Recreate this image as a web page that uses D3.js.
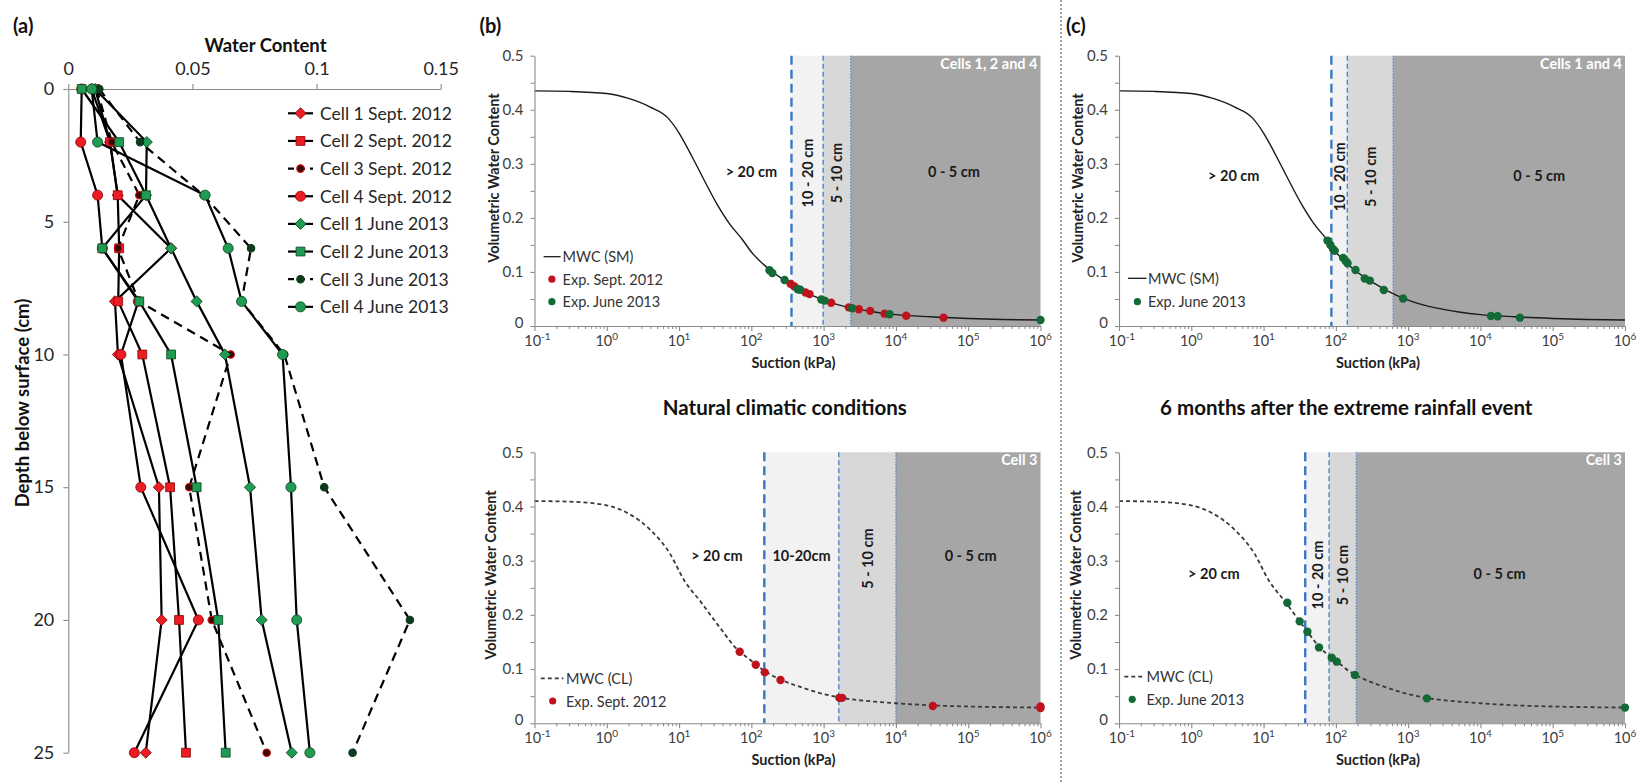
<!DOCTYPE html>
<html>
<head>
<meta charset="utf-8">
<script src="https://cdn.jsdelivr.net/npm/d3@7/dist/d3.min.js"></script>
<style>
html,body{margin:0;padding:0;background:#fff;}
svg{display:block;font-family:Lato,"Noto Sans",sans-serif;}
</style>
</head>
<body>
<svg id="chart" width="1644" height="783"></svg>
<script>
// ================= DATA =================
// Panel (a): water content profiles vs depth
const depths = [0, 2, 4, 6, 8, 10, 15, 20, 25];
const cell1Sept2012 = [0.0094, 0.0168, 0.0199, 0.0414, 0.0188, 0.0200, 0.0365, 0.0376, 0.0312];
const cell2Sept2012 = [0.0108, 0.0168, 0.0199, 0.0205, 0.0201, 0.0298, 0.0410, 0.0446, 0.0474];
const cell3Sept2012 = [0.0115, 0.0175, 0.0286, 0.0200, 0.0284, 0.0654, 0.0487, 0.0578, 0.0799];
const cell4Sept2012 = [0.0054, 0.0050, 0.0118, 0.0137, 0.0282, 0.0212, 0.0292, 0.0524, 0.0266];
const cell1June2013 = [0.0108, 0.0316, 0.0313, 0.0414, 0.0517, 0.0631, 0.0732, 0.0779, 0.0900];
const cell2June2013 = [0.0054, 0.0205, 0.0313, 0.0137, 0.0286, 0.0414, 0.0517, 0.0604, 0.0634];
const cell3June2013 = [0.0125, 0.0289, 0.0545, 0.0736, 0.0698, 0.0870, 0.1031, 0.1376, 0.1145];
const cell4June2013 = [0.0094, 0.0118, 0.0551, 0.0644, 0.0698, 0.0863, 0.0897, 0.0920, 0.0973];
const seriesNamesA = ["Cell 1 Sept. 2012","Cell 2 Sept. 2012","Cell 3 Sept. 2012","Cell 4 Sept. 2012",
                      "Cell 1 June 2013","Cell 2 June 2013","Cell 3 June 2013","Cell 4 June 2013"];
const wcTicks = [0, 0.05, 0.1, 0.15];
const wcTickLabels = ["0", "0.05", "0.1", "0.15"];
const depthTicks = [0, 5, 10, 15, 20, 25];

// Panels (b), (c): water retention curves  [suction kPa, volumetric water content]
const mwcSM = [[0.1,0.435],[0.3,0.434],[1,0.430],[2,0.421],[4,0.405],[7,0.385],[10,0.357],[15,0.314],
  [22,0.271],[33,0.227],[50,0.189],[75,0.160],[100,0.137],[180,0.104],[250,0.090],[350,0.078],[500,0.066],
  [1000,0.048],[2500,0.033],[5000,0.026],[10000,0.021],[30000,0.017],[100000,0.014],[300000,0.012],[1000000,0.011]];
const mwcCL = [[0.1,0.41],[0.3,0.409],[1,0.402],[2,0.387],[4,0.357],[7.4,0.314],[12,0.262],[20,0.224],
  [31.6,0.188],[40,0.170],[58,0.142],[88,0.121],[115,0.109],[153,0.096],[183,0.090],[250,0.081],[500,0.066],
  [1000,0.054],[1750,0.047],[5000,0.040],[10000,0.037],[32000,0.033],[100000,0.031],[1000000,0.029]];
const bTopSept2012 = [[348,0.078],[395,0.073],[562,0.062],[638,0.059],[1270,0.043],[2230,0.0345],[3070,0.031],
  [4400,0.028],[6950,0.0228],[13900,0.019],[45500,0.0154]];
const bTopJune2013 = [[178,0.103],[195,0.098],[288,0.085],[440,0.068],[474,0.067],[927,0.049],[1030,0.047],
  [2480,0.0327],[8150,0.0216],[1000000,0.011]];
const bBotSept2012 = [[69,0.132],[115,0.108],[153,0.094],[253,0.080],[1650,0.047],[1800,0.047],[32400,0.032],
  [1000000,0.028],[1000000,0.031]];
const cTopJune2013 = [[76.6,0.158],[84,0.150],[91.5,0.142],[96.6,0.139],[126,0.126],[137,0.120],[145,0.116],
  [187,0.1036],[251,0.088],[295,0.084],[460,0.0666],[851,0.051],[13960,0.0185],[17300,0.018],[35200,0.0154]];
const cBotJune2013 = [[21.3,0.2225],[31.6,0.188],[40.4,0.169],[58.5,0.140],[87.7,0.121],[103,0.1137],[183,0.089],
  [1815,0.046],[1000000,0.029]];
// zone boundaries (kPa): >20cm | 10-20cm | 5-10cm | 0-5cm
const bTopBounds = [359, 984, 2370];
const bBotBounds = [151, 1620, 10000];
const cTopBounds = [86.7, 144, 620];
const cBotBounds = [37.7, 80.7, 192];
const suctionTicks = [0.1, 1, 10, 100, 1000, 10000, 100000, 1000000];
const suctionTickExp = ["-1","0","1","2","3","4","5","6"];
const vwcTicks = [0, 0.1, 0.2, 0.3, 0.4, 0.5];
const vwcTickLabels = ["0","0.1","0.2","0.3","0.4","0.5"];

// ================= DRAWING =================
const svg = d3.select("#chart");
const TXT = "#262626";
const RED = "#ec1c24", RED_S = "#8a0000";
const GRN = "#1f9b52", GRN_S = "#0b4020";
const DRED = "#3d0404", DRED_S = "#d41010";
const DGRN = "#0c3b1e", DGRN_S = "#0c3b1e";
const SEPT = "#c0121c", JUNE = "#126a36";

function styleAxis(a, size, color){
  a.select(".domain").attr("stroke","#8a8a8a").attr("stroke-width",1.1);
  a.selectAll(".tick line").attr("stroke","#8a8a8a").attr("stroke-width",1.1);
  a.selectAll(".tick text").attr("font-size",size).attr("fill",color).attr("font-family","Lato, 'Noto Sans', sans-serif");
}

// ---------- Panel (a) ----------
const gA = svg.append("g");
const xA = d3.scaleLinear().domain([0, 0.15]).range([68.3, 440.7]);
const yA = d3.scaleLinear().domain([0, 25]).range([89, 752.7]);

gA.append("text").attr("x",13).attr("y",33).attr("font-size",20).attr("font-weight","bold").attr("fill","#111").text("(a)");
gA.append("text").attr("x",265.5).attr("y",45).attr("dominant-baseline","central").attr("text-anchor","middle")
  .attr("font-size",18.5).attr("font-weight","bold").attr("fill","#111").text("Water Content");
gA.append("text").attr("transform","translate(22,403) rotate(-90)").attr("text-anchor","middle").attr("dominant-baseline","central")
  .attr("font-size",18.5).attr("font-weight","bold").attr("fill","#111").text("Depth below surface (cm)");

const axTopA = gA.append("g").attr("transform",`translate(0,${yA(0)})`)
  .call(d3.axisTop(xA).tickValues(wcTicks).tickFormat((d,i)=>wcTickLabels[i]).tickSize(5).tickSizeOuter(0).tickPadding(9));
const axLeftA = gA.append("g").attr("transform",`translate(${xA(0)},0)`)
  .call(d3.axisLeft(yA).tickValues(depthTicks).tickSize(5).tickSizeOuter(0).tickPadding(9));
styleAxis(axTopA, 18, TXT); styleAxis(axLeftA, 18, TXT);

const seriesA = [
  {vals: cell1Sept2012, shape:"diamond", fill:RED,  stroke:RED_S,  dash:false},
  {vals: cell2Sept2012, shape:"square",  fill:RED,  stroke:RED_S,  dash:false},
  {vals: cell3Sept2012, shape:"small",   fill:DRED, stroke:DRED_S, dash:true},
  {vals: cell4Sept2012, shape:"circle",  fill:RED,  stroke:RED_S,  dash:false},
  {vals: cell1June2013, shape:"diamond", fill:GRN,  stroke:GRN_S,  dash:false},
  {vals: cell2June2013, shape:"square",  fill:GRN,  stroke:GRN_S,  dash:false},
  {vals: cell3June2013, shape:"small",   fill:DGRN, stroke:DGRN_S, dash:true},
  {vals: cell4June2013, shape:"circle",  fill:GRN,  stroke:GRN_S,  dash:false}
];
function symbolPath(shape){
  if (shape==="diamond") return d3.symbol(d3.symbolSquare, 62)();
  if (shape==="square")  return d3.symbol(d3.symbolSquare, 78)();
  if (shape==="circle")  return d3.symbol(d3.symbolCircle, 80)();
  return d3.symbol(d3.symbolCircle, 44)();
}
function drawMarker(g, s, cx, cy){
  g.append("path").attr("d", symbolPath(s.shape))
    .attr("transform", `translate(${cx},${cy})` + (s.shape==="diamond" ? " rotate(45)" : ""))
    .attr("fill", s.fill).attr("stroke", s.stroke).attr("stroke-width", s.shape==="small"?1.1:0.8);
}
const lineA = d3.line().x(d=>xA(d[0])).y(d=>yA(d[1]));
seriesA.forEach(s=>{
  const pts = depths.map((dp,i)=>[s.vals[i], dp]);
  gA.append("path").attr("d", lineA(pts)).attr("fill","none").attr("stroke","#000")
    .attr("stroke-width",2.2).attr("stroke-dasharray", s.dash ? "9,6" : null);
  pts.forEach(p=>drawMarker(gA, s, xA(p[0]), yA(p[1])));
});
// legend (a)
seriesA.forEach((s,i)=>{
  const ly = 113.3 + i*27.65;
  gA.append("line").attr("x1",288).attr("x2",313).attr("y1",ly).attr("y2",ly).attr("stroke","#000")
    .attr("stroke-width",2.2).attr("stroke-dasharray", s.dash ? "6,5" : null);
  drawMarker(gA, s, 300.5, ly);
  gA.append("text").attr("x",320).attr("y",ly).attr("dominant-baseline","central").attr("font-size",17.5)
    .attr("fill",TXT).text(seriesNamesA[i]);
});

// ---------- Panels (b), (c) ----------
function drawSuctionPanel(p){
  const g = svg.append("g");
  const x = d3.scaleLog().domain([0.1, 1e6]).range(p.xr);
  const y = d3.scaleLinear().domain([0, 0.5]).range(p.yr);
  const top = y(0.5), bot = y(0);
  const [b1,b2,b3] = p.bounds;
  const bands = [[b1,b2,"#f2f2f2"],[b2,b3,"#d8d8d8"],[b3,1e6,"#a6a6a6"]];
  g.selectAll("rect.band").data(bands).join("rect").attr("class","band")
    .attr("x",d=>x(d[0])).attr("width",d=>x(d[1])-x(d[0])).attr("y",top).attr("height",bot-top).attr("fill",d=>d[2]);
  const bls = [[b1,2.4,"9,5","#3a78c4"],[b2,1.4,"5,3","#4a86cf"],[b3,1.3,"1.5,1.5","#5683c4"]];
  g.selectAll("line.bd").data(bls).join("line").attr("class","bd")
    .attr("x1",d=>x(d[0])).attr("x2",d=>x(d[0])).attr("y1",top).attr("y2",bot)
    .attr("stroke",d=>d[3]).attr("stroke-width",d=>d[1]).attr("stroke-dasharray",d=>d[2]);

  // zone labels
  const centers = [null, Math.sqrt(b1*b2), Math.sqrt(b2*b3), null];
  p.zones.forEach((z,i)=>{
    const sx = z.at !== null ? z.at : centers[i];
    const t = g.append("text").attr("font-size",14.5).attr("font-weight","bold").attr("fill","#1a1a1a")
      .attr("text-anchor","middle").attr("dominant-baseline","central").text(z.text);
    if (z.vertical) t.attr("transform",`translate(${x(sx)},${y(z.theta)}) rotate(-90)`);
    else t.attr("x",x(sx)).attr("y",y(z.theta));
  });
  g.append("text").attr("x",x(1e6)-3).attr("y",y(0.486)).attr("text-anchor","end").attr("dominant-baseline","central")
    .attr("font-size",14.5).attr("font-weight","bold").attr("fill","#fff").text(p.corner);

  // curve
  const line = d3.line().x(d=>x(d[0])).y(d=>y(d[1])).curve(d3.curveMonotoneX);
  g.append("path").attr("d", line(p.curve)).attr("fill","none")
    .attr("stroke", p.dashed ? "#3a3a3a" : "#1a1a1a").attr("stroke-width", p.dashed ? 1.8 : 1.4)
    .attr("stroke-dasharray", p.dashed ? "4,3" : null);
  // points
  p.series.forEach(s=>{
    g.selectAll(null).data(s.pts).join("circle").attr("cx",d=>x(d[0])).attr("cy",d=>y(d[1]))
      .attr("r",4.2).attr("fill",s.color);
  });

  // axes
  const ax = g.append("g").attr("transform",`translate(0,${bot})`)
    .call(d3.axisBottom(x).tickValues(suctionTicks).tickFormat("").tickSize(5).tickSizeOuter(0));
  styleAxis(ax, 15, "#404040");
  const minor = [];
  suctionTicks.slice(0,-1).forEach(d=>{ for (let k=2;k<10;k++) minor.push(d*k); });
  const axm = g.append("g").attr("transform",`translate(0,${bot})`)
    .call(d3.axisBottom(x).tickValues(minor).tickFormat("").tickSize(3).tickSizeOuter(0));
  axm.select(".domain").remove();
  axm.selectAll(".tick line").attr("stroke","#8a8a8a");
  suctionTicks.forEach((d,i)=>{
    const t = g.append("text").attr("x",x(d) + (i===0 ? 3 : 0)).attr("y",bot+20).attr("text-anchor","middle")
      .attr("font-size",14.5).attr("fill","#404040");
    t.append("tspan").text("10");
    t.append("tspan").attr("dy",-6).attr("font-size",10).text(suctionTickExp[i]);
  });
  const yMinor = [0.05,0.15,0.25,0.35,0.45];
  const ay = g.append("g").attr("transform",`translate(${x(0.1)},0)`)
    .call(d3.axisLeft(y).tickValues(vwcTicks).tickFormat((d,i)=>vwcTickLabels[i]).tickSize(4).tickSizeOuter(0).tickPadding(7));
  styleAxis(ay, 15, "#404040");
  ay.selectAll(".tick text").filter(d=>d===0).attr("dy","0.1em");
  const aym = g.append("g").attr("transform",`translate(${x(0.1)},0)`)
    .call(d3.axisLeft(y).tickValues(yMinor).tickFormat("").tickSize(4).tickSizeOuter(0));
  aym.select(".domain").remove();
  aym.selectAll(".tick line").attr("stroke","#8a8a8a");

  // axis titles
  g.append("text").attr("transform",`translate(${p.ylabX},${p.ylabY}) rotate(-90)`).attr("text-anchor","middle")
    .attr("dominant-baseline","central").attr("font-size",14.5).attr("font-weight","bold").attr("fill","#222")
    .text("Volumetric Water Content");
  g.append("text").attr("x",(p.xr[0]+p.xr[1])/2 + 6).attr("y",bot+36).attr("text-anchor","middle")
    .attr("dominant-baseline","central").attr("font-size",14.5).attr("font-weight","bold").attr("fill","#222")
    .text("Suction (kPa)");

  // legend
  const L = p.legend;
  g.append("line").attr("x1",L.x1).attr("x2",L.x2).attr("y1",L.y).attr("y2",L.y)
    .attr("stroke", p.dashed ? "#3a3a3a" : "#1a1a1a").attr("stroke-width", p.dashed ? 1.8 : 1.3)
    .attr("stroke-dasharray", p.dashed ? "4,3" : null);
  g.append("text").attr("x",L.tx).attr("y",L.y).attr("dominant-baseline","central").attr("font-size",14.5)
    .attr("fill","#333").text(p.curveName);
  p.series.forEach((s,i)=>{
    const ly = L.y + (i+1)*L.gap;
    g.append("circle").attr("cx",L.dx).attr("cy",ly).attr("r",3.6).attr("fill",s.color);
    g.append("text").attr("x",L.tx).attr("y",ly).attr("dominant-baseline","central").attr("font-size",14.5)
      .attr("fill","#333").text(s.name);
  });
}

drawSuctionPanel({
  xr:[534.5,1040.5], yr:[326,55.7], bounds:bTopBounds, curve:mwcSM, dashed:false, curveName:"MWC (SM)",
  series:[{pts:bTopSept2012,color:SEPT,name:"Exp. Sept. 2012"},{pts:bTopJune2013,color:JUNE,name:"Exp. June 2013"}],
  zones:[{text:"> 20 cm",at:100,theta:0.2854,vertical:false},{text:"10 - 20 cm",at:null,theta:0.283,vertical:true},
         {text:"5 - 10 cm",at:null,theta:0.283,vertical:true},{text:"0 - 5 cm",at:63500,theta:0.2854,vertical:false}],
  corner:"Cells 1, 2 and 4", ylabX:493.4, ylabY:178,
  legend:{x1:543.6,x2:560.6,tx:562.6,dx:551.9,y:256.7,gap:22.5}
});
drawSuctionPanel({
  xr:[534.5,1040.5], yr:[723.3,452.3], bounds:bBotBounds, curve:mwcCL, dashed:true, curveName:"MWC (CL)",
  series:[{pts:bBotSept2012,color:SEPT,name:"Exp. Sept. 2012"}],
  zones:[{text:"> 20 cm",at:33.3,theta:0.309,vertical:false},{text:"10-20cm",at:null,theta:0.309,vertical:false},
         {text:"5 - 10 cm",at:null,theta:0.304,vertical:true},{text:"0 - 5 cm",at:108000,theta:0.309,vertical:false}],
  corner:"Cell 3", ylabX:490.6, ylabY:575,
  legend:{x1:540.8,x2:563.4,tx:566,dx:552.7,y:678.3,gap:22.7}
});
drawSuctionPanel({
  xr:[1119,1625], yr:[326,55.7], bounds:cTopBounds, curve:mwcSM, dashed:false, curveName:"MWC (SM)",
  series:[{pts:cTopJune2013,color:JUNE,name:"Exp. June 2013"}],
  zones:[{text:"> 20 cm",at:3.87,theta:0.2793,vertical:false},{text:"10 - 20 cm",at:null,theta:0.276,vertical:true},
         {text:"5 - 10 cm",at:null,theta:0.276,vertical:true},{text:"0 - 5 cm",at:65200,theta:0.2793,vertical:false}],
  corner:"Cells 1 and 4", ylabX:1077.7, ylabY:178,
  legend:{x1:1128,x2:1146.5,tx:1148,dx:1137.4,y:278.3,gap:23.4}
});
drawSuctionPanel({
  xr:[1119,1625], yr:[723.3,452.3], bounds:cBotBounds, curve:mwcCL, dashed:true, curveName:"MWC (CL)",
  series:[{pts:cBotJune2013,color:JUNE,name:"Exp. June 2013"}],
  zones:[{text:"> 20 cm",at:2.05,theta:0.2768,vertical:false},{text:"10 - 20 cm",at:null,theta:0.2736,vertical:true},
         {text:"5 - 10 cm",at:null,theta:0.2736,vertical:true},{text:"0 - 5 cm",at:18400,theta:0.2768,vertical:false}],
  corner:"Cell 3", ylabX:1075.7, ylabY:575,
  legend:{x1:1124.3,x2:1142.6,tx:1146.5,dx:1132.2,y:676.7,gap:22.6}
});

// panel letters, section titles, divider
svg.append("text").attr("x",479.5).attr("y",33).attr("font-size",20).attr("font-weight","bold").attr("fill","#111").text("(b)");
svg.append("text").attr("x",1066).attr("y",33).attr("font-size",20).attr("font-weight","bold").attr("fill","#111").text("(c)");
svg.append("text").attr("x",784.8).attr("y",406.7).attr("text-anchor","middle").attr("dominant-baseline","central")
  .attr("font-size",20.5).attr("font-weight","bold").attr("fill","#111").text("Natural climatic conditions");
svg.append("text").attr("x",1346.3).attr("y",406.7).attr("text-anchor","middle").attr("dominant-baseline","central")
  .attr("font-size",20.5).attr("font-weight","bold").attr("fill","#111").text("6 months after the extreme rainfall event");
svg.append("line").attr("x1",1061).attr("x2",1061).attr("y1",0).attr("y2",783)
  .attr("stroke","#444").attr("stroke-width",1).attr("stroke-dasharray","2,2");
</script>
</body>
</html>
